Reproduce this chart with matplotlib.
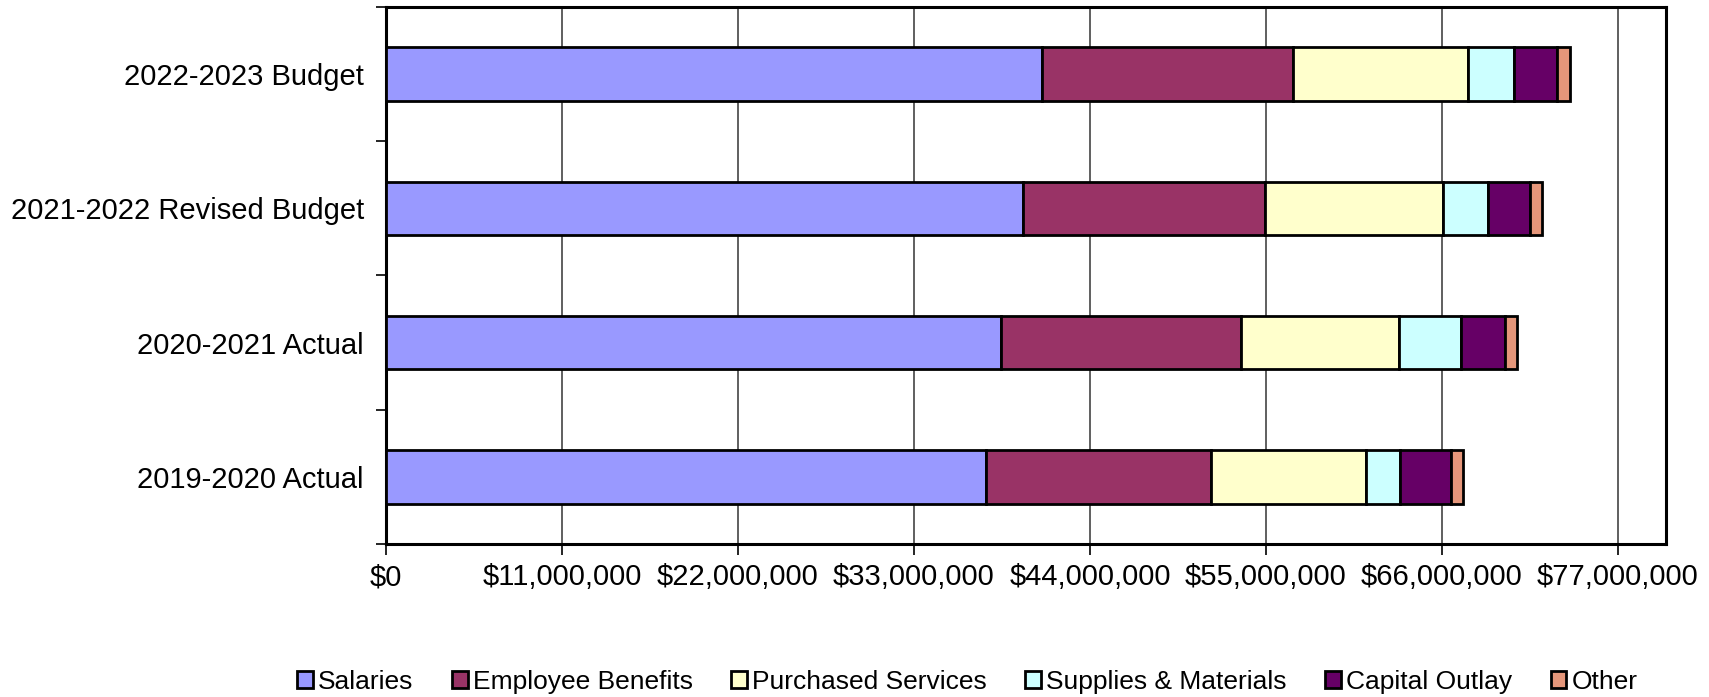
import matplotlib.pyplot as plt
import matplotlib.ticker as mticker
import numpy as np

plt.rcParams['font.family'] = ['Liberation Sans', 'DejaVu Sans']

years = ['2019-2020 Actual', '2020-2021 Actual', '2021-2022 Revised Budget', '2022-2023 Budget']
series = ['Salaries', 'Employee Benefits', 'Purchased Services',
          'Supplies & Materials', 'Capital Outlay', 'Other']
salaries = [37_490_000, 38_450_000, 39_820_000, 41_020_000]
benefits = [14_060_000, 15_010_000, 15_100_000, 15_660_000]
purchased = [9_690_000, 9_880_000, 11_160_000, 10_960_000]
supplies = [2_160_000, 3_850_000, 2_770_000, 2_850_000]
capital = [3_140_000, 2_740_000, 2_640_000, 2_720_000]
other = [790_000, 790_000, 770_000, 780_000]
colors = ['#9999FF', '#993366', '#FFFFCC', '#CCFFFF', '#660066', '#E5967A']

fig = plt.figure(figsize=(17.09, 6.97), dpi=100)
ax = fig.add_axes([0.2259, 0.2195, 0.7489, 0.7705])

y = np.arange(len(years))
left = np.zeros(len(years))
for name, vals, col in zip(series, [salaries, benefits, purchased, supplies, capital, other], colors):
    ax.barh(y, vals, left=left, height=0.4, color=col, edgecolor='black',
            linewidth=2, label=name, zorder=3)
    left = left + np.array(vals)

ax.set_xlim(0, 80_000_000)
ax.set_ylim(-0.5, 3.5)
ax.xaxis.set_major_locator(mticker.MultipleLocator(11_000_000))
ax.xaxis.set_major_formatter(mticker.FuncFormatter(lambda v, p: '${:,.0f}'.format(v)))
ax.grid(axis='x', color='#444444', linewidth=1.2, zorder=0)

ax.set_yticks(y)
ax.set_yticklabels(years, fontsize=21)
ax.set_yticks(np.arange(-0.5, 4, 1), minor=True)
ax.tick_params(axis='y', which='major', length=0, pad=16)
ax.tick_params(axis='y', which='minor', length=7, width=1.2, direction='out')
ax.tick_params(axis='x', which='major', length=8, width=1.2, direction='out',
               labelsize=21, pad=6)

for sp in ax.spines.values():
    sp.set_linewidth(2.2)

fig.legend(loc='center', bbox_to_anchor=(0.566, 0.0215), ncol=6, frameon=False,
           fontsize=19, handlelength=0.6, handleheight=0.6, handletextpad=0.2,
           columnspacing=1.45, borderaxespad=0)

plt.savefig('out.png', dpi=100, facecolor='white')
